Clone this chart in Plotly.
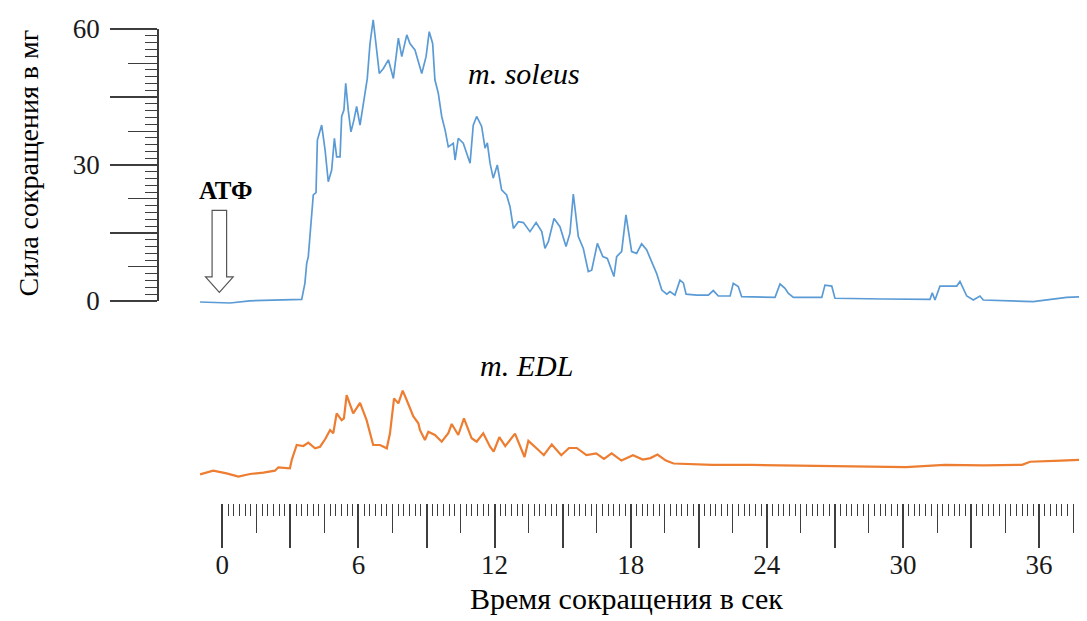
import plotly.graph_objects as go

# ---------------- data ----------------
# m. soleus: time, s  /  force, mg
sol_t = [-0.98, -0.45, 0.34, 1.21, 2.10, 2.98, 3.50, 3.64, 3.72, 3.79, 3.94, 4.01, 4.13, 4.19, 4.38,
         4.53, 4.67, 4.82, 4.94, 5.04, 5.19, 5.26, 5.36, 5.44, 5.55, 5.67, 5.80, 5.92, 6.07, 6.21,
         6.39, 6.51, 6.65, 6.77, 6.92, 7.10, 7.32, 7.54, 7.76, 7.91, 8.13, 8.27, 8.49, 8.79, 8.98,
         9.12, 9.27, 9.37, 9.52, 9.67, 9.82, 9.96, 10.18, 10.26, 10.40, 10.62, 10.92, 11.06, 11.21,
         11.43, 11.58, 11.68, 11.80, 11.94, 12.12, 12.31, 12.53, 12.68, 12.83, 13.05, 13.27, 13.56,
         13.83, 14.08, 14.22, 14.37, 14.62, 14.88, 15.15, 15.32, 15.47, 15.69, 15.91, 16.13, 16.28,
         16.53, 16.77, 16.97, 17.26, 17.38, 17.60, 17.79, 18.04, 18.26, 18.48, 18.70, 18.92, 19.14,
         19.37, 19.59, 19.73, 19.95, 20.17, 20.32, 20.44, 20.91, 21.42, 21.64, 21.86, 22.38, 22.52,
         22.74, 22.89, 24.36, 24.58, 24.80, 24.94, 25.17, 26.42, 26.56, 26.86, 27.00, 29.13, 31.19,
         31.29, 31.41, 31.63, 32.37, 32.51, 32.66, 32.81, 33.10, 33.39, 33.54, 35.74, 37.21, 38.11]
sol_f = [-0.22, -0.33, -0.44, 0.04, 0.22, 0.37, 0.37, 3.9, 8.3, 9.8, 18.6, 23.4, 23.9, 35.5, 38.8,
         33.3, 26.3, 28.9, 35.9, 31.8, 31.8, 40.7, 42.1, 48.0, 42.1, 37.3, 39.9, 42.9, 38.8, 43.6,
         49.1, 56.8, 62.0, 56.8, 50.2, 51.3, 53.2, 49.1, 58.0, 53.9, 58.7, 56.8, 55.4, 50.2, 53.9,
         59.4, 56.8, 48.8, 45.8, 40.7, 37.7, 34.0, 34.8, 31.1, 35.9, 34.8, 30.4, 38.8, 40.7,
         38.5, 33.7, 34.9, 30.4, 27.1, 30.0, 24.5, 23.4, 20.8, 16.0, 17.5, 17.3, 15.3,
         17.3, 15.3, 11.6, 13.1, 18.2, 16.4, 12.0, 14.9, 23.6, 14.2, 11.6, 6.5, 6.8,
         12.7, 9.8, 9.4, 5.4, 9.8, 10.9, 19.0, 10.9, 10.5, 12.6, 11.3, 8.7, 6.1,
         2.4, 1.5, 2.1, 1.3, 4.6, 4.0, 1.5, 1.3, 1.3, 2.3, 1.1, 1.1, 3.9,
         3.2, 0.95, 0.8, 3.75, 2.8, 1.7, 0.8, 0.8, 3.5, 3.3, 0.6, 0.44, 0.37,
         1.8, 0.22, 3.3, 3.3, 4.3, 2.8, 1.1, 0.22, 1.1, 0.22, -0.15, 0.8, 0.95]

# m. EDL: time, s  /  force, mg (relative to its own baseline)
edl_t = [-0.98, -0.40, 0.19, 0.71, 1.22, 1.81, 2.32, 2.47, 2.98, 3.06, 3.28, 3.57, 3.79, 4.09, 4.31,
         4.53, 4.75, 4.89, 5.04, 5.26, 5.36, 5.48, 5.77, 6.07, 6.36, 6.65, 6.95, 7.25, 7.39, 7.57,
         7.76, 7.95, 8.13, 8.42, 8.64, 8.71, 8.93, 9.08, 9.37, 9.67, 9.96, 10.11, 10.40, 10.65,
         10.99, 11.21, 11.50, 11.80, 11.96, 12.21, 12.47, 12.90, 13.32, 13.49, 13.92, 14.17, 14.52,
         14.94, 15.28, 15.62, 16.05, 16.48, 16.82, 17.16, 17.59, 18.10, 18.53, 18.87, 19.18, 19.55,
         19.89, 21.60, 23.31, 25.01, 26.72, 28.43, 30.13, 31.84, 33.55, 35.25, 35.60, 36.96, 38.11]
edl_f = [0.15, 0.95, 0.37, -0.37, 0.22, 0.51, 0.95, 1.70, 1.48, 3.31, 6.62, 6.40, 7.13, 5.89, 6.24,
         7.88, 9.93, 9.20, 13.6, 12.1, 12.5, 17.6, 13.6, 15.9, 12.1, 6.62, 6.62, 5.89, 9.20, 16.9,
         15.8, 18.6, 16.5, 12.9, 11.4, 9.93, 7.72, 9.55, 8.82, 7.35, 9.20, 11.25, 8.82, 12.5,
         8.10, 7.35, 9.20, 6.24, 5.16, 8.34, 6.35, 9.13, 3.97, 7.54, 5.56, 4.37, 6.75,
         4.37, 5.96, 5.96, 4.37, 4.77, 3.57, 4.77, 3.18, 4.37, 3.42, 3.73, 4.52, 3.18,
         2.54, 2.23, 2.23, 2.14, 1.99, 1.99, 1.74, 2.23, 2.14, 2.23, 2.93, 3.18, 3.42]

x_major = [0, 3, 6, 9, 12, 15, 18, 21, 24, 27, 30, 33, 36]
x_labels = ['0', '', '6', '', '12', '', '18', '', '24', '', '30', '', '36']
y_major = [0, 15, 30, 45, 60]
y_labels = ['0', '', '30', '', '60']

# ---------------- layout geometry (screen pixels) ----------------
W, H = 1087, 621
OFF = 8                          # page offset of the figure on screen
PX0, PXS = 222.3, 22.69          # pixel of t=0, pixels per second
PY0, PYK = 301.0, 272.0 / 60.0   # pixel of 0 mg, pixels per mg
EDL_PY0 = 475.0                  # pixel of EDL zero
SPLIT = 341.0                    # boundary between the two data panels
RULER_TOP = 503.0                # top of x ruler
YAX_PX = 158.0                   # x pixel of the y ruler line
X_END = 37.5


def fx(px):
    return (px - OFF) / W


def fy(py):
    return 1 - (py - OFF) / H


FONT = 'Liberation Serif'
TICKC = '#3d3d3d'
blue = '#5B9BD5'
orange = '#ED7D31'

fig = go.Figure()
fig.add_trace(go.Scatter(x=sol_t, y=sol_f, mode='lines', line=dict(color=blue, width=1.7),
                         xaxis='x', yaxis='y', showlegend=False, hoverinfo='skip'))
fig.add_trace(go.Scatter(x=edl_t, y=edl_f, mode='lines', line=dict(color=orange, width=2.2),
                         xaxis='x', yaxis='y2', showlegend=False, hoverinfo='skip'))
# empty traces so the ruler axes get drawn
for xa, ya in [('x', 'y3'), ('x', 'y4'), ('x2', 'y'), ('x3', 'y')]:
    fig.add_trace(go.Scatter(x=[None], y=[None], xaxis=xa, yaxis=ya, showlegend=False,
                             hoverinfo='skip', mode='lines'))

tickfont = dict(family=FONT, size=27, color='#1a1a1a')

fig.update_layout(
    width=W, height=H, margin=dict(l=0, r=0, t=0, b=0, pad=0, autoexpand=False),
    paper_bgcolor='white', plot_bgcolor='rgba(0,0,0,0)',
    xaxis=dict(domain=[0, 1], range=[(OFF - PX0) / PXS, (W + OFF - PX0) / PXS], visible=False,
               anchor='y', automargin=False),
    yaxis=dict(domain=[fy(SPLIT), 1], range=[(PY0 - SPLIT) / PYK, (PY0 - OFF) / PYK],
               visible=False, anchor='x', automargin=False),
    yaxis2=dict(domain=[fy(RULER_TOP), fy(SPLIT)],
                range=[(EDL_PY0 - RULER_TOP) / PYK, (EDL_PY0 - SPLIT) / PYK], visible=False,
                anchor='x', automargin=False),
    # y ruler
    yaxis3=dict(domain=[fy(PY0), fy(PY0 - 60 * PYK)], range=[-0.005, 60.005], anchor='free',
                position=fx(YAX_PX), side='left', showline=True, linecolor=TICKC, linewidth=1.5,
                showgrid=False, zeroline=False, ticks='outside', tickmode='array',
                tickvals=y_major, ticktext=y_labels, ticklen=47, tickwidth=1.5, tickcolor=TICKC,
                tickfont=tickfont, ticklabelstandoff=5, automargin=False,
                minor=dict(tickmode='linear', tick0=0, dtick=7.5, ticklen=29, tickwidth=1.4,
                           tickcolor=TICKC, ticks='outside', showgrid=False)),
    yaxis4=dict(overlaying='y3', range=[-0.005, 60.005], anchor='free', position=fx(YAX_PX),
                side='left', showline=False, showgrid=False, zeroline=False, ticks='outside',
                tickmode='linear', tick0=0, dtick=1.5, ticklen=13, tickwidth=1.3,
                tickcolor=TICKC, showticklabels=False, automargin=False),
    # x ruler
    xaxis2=dict(domain=[fx(PX0), fx(PX0 + X_END * PXS)], range=[-0.002, X_END + 0.002],
                anchor='free', position=fy(RULER_TOP), side='bottom', showline=False,
                showgrid=False, zeroline=False, ticks='outside', tickmode='array',
                tickvals=x_major, ticktext=x_labels, ticklen=44, tickwidth=1.5, tickcolor=TICKC,
                tickfont=tickfont, ticklabelstandoff=-6, automargin=False,
                minor=dict(tickmode='linear', tick0=0, dtick=1.5, ticklen=29, tickwidth=1.4,
                           tickcolor=TICKC, ticks='outside', showgrid=False)),
    xaxis3=dict(overlaying='x2', range=[-0.002, X_END + 0.002], anchor='free',
                position=fy(RULER_TOP), side='bottom', showline=False, showgrid=False,
                zeroline=False, ticks='outside', tickmode='linear', tick0=0, dtick=0.25,
                ticklen=12, tickwidth=1.3, tickcolor=TICKC, showticklabels=False,
                automargin=False),
)

# hollow arrow marking ATP addition (in data units of the soleus panel)
ax_c, ax_hw_s, ax_hw_h = -0.13, 0.32, 0.61
ay_top, ay_head, ay_tip = 20.0, 5.3, 1.9
path = (f'M {ax_c - ax_hw_s},{ay_top} L {ax_c + ax_hw_s},{ay_top} L {ax_c + ax_hw_s},{ay_head} '
        f'L {ax_c + ax_hw_h},{ay_head} L {ax_c},{ay_tip} L {ax_c - ax_hw_h},{ay_head} '
        f'L {ax_c - ax_hw_s},{ay_head} Z')
fig.add_shape(type='path', path=path, xref='x', yref='y', fillcolor='white',
              line=dict(color='#555555', width=1.2))

ann = [
    dict(text='<i>m. soleus</i>', x=fx(524), y=fy(73), size=30),
    dict(text='<i>m. EDL</i>', x=fx(526), y=fy(365), size=30),
    dict(text='<b>АТФ</b>', x=fx(225.5), y=fy(191), size=25),
    dict(text='Время сокращения в сек', x=fx(626), y=fy(598), size=30),
]
for a in ann:
    fig.add_annotation(text=a['text'], x=a['x'], y=a['y'], xref='paper', yref='paper',
                       xanchor='center', yanchor='middle', showarrow=False,
                       font=dict(family=FONT, size=a['size'], color='black'))
fig.add_annotation(text='Сила сокращения в мг', x=fx(27.5), y=fy(163), xref='paper',
                   yref='paper', xanchor='center', yanchor='middle', showarrow=False,
                   textangle=-90, font=dict(family=FONT, size=28, color='black'))

fig.write_html('out.html')
